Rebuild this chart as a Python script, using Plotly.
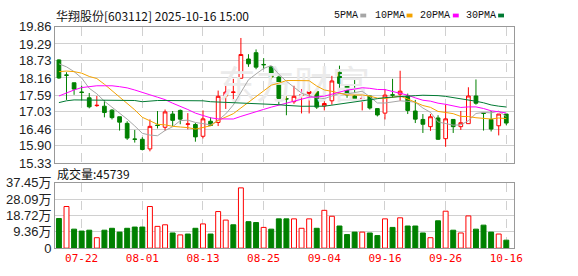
import plotly.graph_objects as go

# ---------------- data ----------------
stock_name = "华翔股份"
stock_code = "603112"
timestamp = "2025-10-16 15:00"

dates = ["07-17", "07-18", "07-21", "07-22", "07-23", "07-24", "07-25", "07-28", "07-29", "07-30",
         "07-31", "08-01", "08-04", "08-05", "08-06", "08-07", "08-08", "08-11", "08-12", "08-13",
         "08-14", "08-15", "08-18", "08-19", "08-20", "08-21", "08-22", "08-25", "08-26", "08-27",
         "08-28", "08-29", "09-01", "09-02", "09-03", "09-04", "09-05", "09-08", "09-09", "09-10",
         "09-11", "09-12", "09-15", "09-16", "09-17", "09-18", "09-19", "09-22", "09-23", "09-24",
         "09-25", "09-26", "09-29", "09-30", "10-09", "10-10", "10-13", "10-14", "10-15", "10-16"]

opens = [18.76, 18.26, 18.00, 17.69, 17.50, 17.24, 17.22, 17.09, 16.87, 16.65,
         16.13, 16.12, 15.80, 16.59, 16.52, 16.96, 17.08, 16.62, 16.61, 16.22,
         16.72, 16.68, 17.56, 17.68, 18.15, 18.79, 19.00, 18.61, 18.53, 18.19,
         17.47, 17.37, 17.59, 17.64, 17.71, 17.23, 17.40, 18.35, 17.92, 17.56,
         17.47, 17.56, 17.14, 16.99, 17.60, 17.62, 17.56, 17.06, 16.78, 16.54,
         16.83, 16.14, 16.78, 16.54, 16.64, 17.56, 16.99, 16.78, 16.57, 16.96]
highs = [18.78, 18.35, 18.00, 17.90, 17.66, 17.56, 17.42, 17.12, 16.87, 16.72,
         16.43, 16.19, 16.78, 17.06, 17.11, 17.06, 17.11, 16.99, 16.66, 17.08,
         16.85, 17.74, 17.90, 18.13, 19.49, 18.95, 19.11, 18.82, 18.55, 18.30,
         17.56, 17.90, 17.79, 17.95, 17.71, 18.11, 18.23, 18.57, 17.92, 18.09,
         17.56, 17.56, 17.14, 17.79, 18.13, 18.40, 17.64, 17.43, 16.96, 16.96,
         16.92, 17.27, 16.78, 17.06, 17.85, 18.11, 16.99, 17.06, 16.96, 16.96]
lows = [18.13, 17.43, 17.60, 17.41, 17.15, 17.20, 16.85, 16.78, 16.41, 16.10,
        16.01, 15.75, 15.72, 16.48, 16.41, 16.56, 16.62, 16.45, 16.04, 16.15,
        16.56, 16.56, 17.13, 17.46, 18.15, 18.53, 18.45, 18.45, 18.11, 17.27,
        16.92, 17.30, 16.98, 16.98, 17.13, 17.08, 17.27, 17.82, 17.50, 17.47,
        17.08, 17.11, 16.88, 16.78, 17.50, 17.40, 16.96, 16.66, 16.33, 16.40,
        16.10, 15.87, 16.33, 16.43, 16.64, 17.27, 16.41, 16.38, 16.25, 16.59]
closes = [18.16, 18.25, 17.79, 17.68, 17.20, 17.25, 17.01, 16.84, 16.69, 16.16,
          16.12, 15.78, 16.55, 16.58, 17.03, 16.75, 16.79, 16.63, 16.20, 16.80,
          16.58, 17.55, 17.69, 17.69, 18.94, 18.63, 18.52, 18.60, 18.19, 17.48,
          17.46, 17.55, 17.60, 17.71, 17.19, 17.31, 18.06, 17.98, 17.60, 17.47,
          17.48, 17.16, 16.93, 17.59, 17.59, 17.72, 17.08, 16.79, 16.62, 16.87,
          16.12, 16.80, 16.54, 16.67, 17.56, 17.32, 16.98, 16.46, 16.96, 16.66]
# volume in 手
volumes = [170000, 239000, 109000, 98000, 103000, 60000, 103000, 114000, 92000, 114000,
           121000, 121000, 239000, 125000, 134000, 87000, 76000, 81000, 114000, 139000,
           81000, 210000, 161000, 134000, 346000, 152000, 147000, 119000, 109000, 168000,
           168000, 168000, 114000, 168000, 114000, 217000, 183000, 127000, 78000, 92000,
           92000, 87000, 72000, 168000, 119000, 174000, 127000, 127000, 87000, 60000,
           157000, 212000, 103000, 87000, 185000, 109000, 132000, 92000, 81000, 45739]

ma5_head = [18.63, 18.53, 18.37, 18.16]
ma10_head = [18.37, 18.39, 18.37, 18.32, 18.21, 18.14, 17.95, 17.74, 17.53]
ma20_head = [17.56, 17.67, 17.76, 17.84, 17.88, 17.90, 17.90, 17.90, 17.87, 17.83,
             17.76, 17.69, 17.60, 17.52, 17.44, 17.32, 17.22, 17.11, 16.99]
ma30_head = [17.34, 17.40, 17.43, 17.43, 17.43, 17.43, 17.43, 17.43, 17.43, 17.43,
             17.41, 17.37, 17.40, 17.41, 17.41, 17.41, 17.41, 17.41, 17.40, 17.40,
             17.37, 17.36, 17.35, 17.34, 17.33, 17.32, 17.32, 17.31, 17.30]

price_ticks = [15.33, 15.90, 16.46, 17.03, 17.59, 18.16, 18.73, 19.29, 19.86]
vol_ticks = [0, 93600, 187200, 280900, 374500]
vol_tick_text = ["0", "9.36万", "18.72万", "28.09万", "37.45万"]
date_ticks = ["07-22", "08-01", "08-13", "08-25", "09-04", "09-16", "09-26", "10-16"]
ma_names = ["5PMA", "10PMA", "20PMA", "30PMA"]
ma_colors = ["#a6a6a6", "#f4a300", "#ff00ff", "#007a33"]

# ---------------- derived ----------------
idx = list(range(len(dates)))


def moving_average(n, head):
    out = []
    for i in range(len(closes)):
        if i < n - 1:
            out.append(head[i])
        else:
            out.append(sum(closes[i - n + 1:i + 1]) / n)
    return out


mas = [moving_average(5, ma5_head), moving_average(10, ma10_head),
       moving_average(20, ma20_head), moving_average(30, ma30_head)]

RED = "#ff0000"
GREEN = "#008000"
vol_fill, vol_line = [], []
for i in range(len(closes)):
    ref = closes[i - 1] if i > 0 else opens[i]
    up = closes[i] > ref
    vol_fill.append("#ffffff" if up else GREEN)
    vol_line.append(RED if up else GREEN)

W, H = 578, 276


def px(x):
    return x / W


def py(y):
    return 1 - y / H


fig = go.Figure()

# watermark (behind everything)
fig.add_trace(go.Scatter(x=[31.0], y=[17.80], mode="text", text=["东方财富"],
                         textfont=dict(family="Noto Sans CJK SC", size=38, color="#ebebeb"),
                         hoverinfo="skip", showlegend=False, xaxis="x", yaxis="y"))

fig.add_trace(go.Candlestick(
    x=idx, open=opens, high=highs, low=lows, close=closes,
    increasing=dict(line=dict(color=RED, width=1), fillcolor="#ffffff"),
    decreasing=dict(line=dict(color=GREEN, width=1), fillcolor=GREEN),
    whiskerwidth=0, showlegend=False, hoverinfo="skip", xaxis="x", yaxis="y"))

for name, color, vals in zip(ma_names, ma_colors, mas):
    fig.add_trace(go.Scatter(x=idx, y=vals, mode="lines", name=name,
                             line=dict(color=color, width=1), showlegend=False,
                             hoverinfo="skip", xaxis="x", yaxis="y"))

fig.add_trace(go.Bar(x=idx, y=volumes, marker=dict(color=vol_fill, line=dict(color=vol_line, width=1)),
                     showlegend=False, hoverinfo="skip", xaxis="x2", yaxis="y2"))

tick_pos = [dates.index(d) for d in date_ticks]
xdom = [px(56), px(522)]
xrange_ = [-0.5, 60.0]
grid = "#d0d0d0"
border = "#999999"
label_font = dict(family="Liberation Sans, Noto Sans CJK SC", size=13, color="#222222")

fig.update_layout(
    width=W, height=H, margin=dict(l=0, r=0, t=0, b=0),
    paper_bgcolor="#ffffff", plot_bgcolor="#ffffff",
    bargap=0.35, showlegend=False,
    xaxis=dict(domain=xdom, range=xrange_, anchor="y", tickvals=tick_pos, showticklabels=False,
               showgrid=True, gridcolor=grid, griddash="dash", gridwidth=1,
               showline=True, mirror=True, linecolor=border, linewidth=1,
               zeroline=False, ticks="", rangeslider=dict(visible=False), fixedrange=True),
    yaxis=dict(domain=[py(165), py(21)], range=[price_ticks[0], price_ticks[-1]], anchor="x",
               tickvals=price_ticks, ticktext=[f"{v:.2f}" for v in price_ticks],
               showgrid=True, gridcolor=grid, gridwidth=1, zeroline=False,
               showline=True, mirror=True, linecolor=border, linewidth=1,
               ticks="", tickfont=label_font, fixedrange=True),
    xaxis2=dict(domain=xdom, range=xrange_, anchor="y2", tickvals=tick_pos, ticktext=date_ticks,
                showgrid=True, gridcolor=grid, griddash="dash", gridwidth=1,
                showline=True, mirror=True, linecolor=border, linewidth=1,
                zeroline=False, ticks="",
                tickfont=dict(family="DejaVu Sans Mono", size=11, color=RED), fixedrange=True),
    yaxis2=dict(domain=[py(255), py(186)], range=[vol_ticks[0], vol_ticks[-1]], anchor="x2",
                tickvals=vol_ticks, ticktext=vol_tick_text,
                showgrid=True, gridcolor=grid, gridwidth=1, zeroline=False,
                showline=True, mirror=True, linecolor=border, linewidth=1,
                ticks="", tickfont=label_font, fixedrange=True),
)

annotations = [
    dict(x=px(55), y=py(9), xref="paper", yref="paper", xanchor="left", yanchor="middle",
         text=f"{stock_name}[{stock_code}] {timestamp}", showarrow=False,
         font=dict(family="Noto Sans CJK SC", size=12, color="#111111")),
    dict(x=px(56), y=py(176), xref="paper", yref="paper", xanchor="left", yanchor="middle",
         text=f"成交量:{volumes[-1]}", showarrow=False,
         font=dict(family="Noto Sans CJK SC", size=12, color="#111111")),
]
legend_text_x = [338, 380, 426, 472]
legend_sq_x = [366, 413, 460, 506]
shapes = []
for name, color, tx, sx in zip(ma_names, ma_colors, legend_text_x, legend_sq_x):
    annotations.append(dict(x=px(tx - 1), y=py(9), xref="paper", yref="paper", xanchor="left",
                            yanchor="middle", text=name, showarrow=False,
                            font=dict(family="Liberation Mono", size=10, color="#111111")))
    shapes.append(dict(type="rect", xref="paper", yref="paper", x0=px(sx), x1=px(sx + 6),
                       y0=py(11), y1=py(7), fillcolor=color, line=dict(width=0)))

fig.update_layout(annotations=annotations, shapes=shapes)

fig.write_html("out.html")
